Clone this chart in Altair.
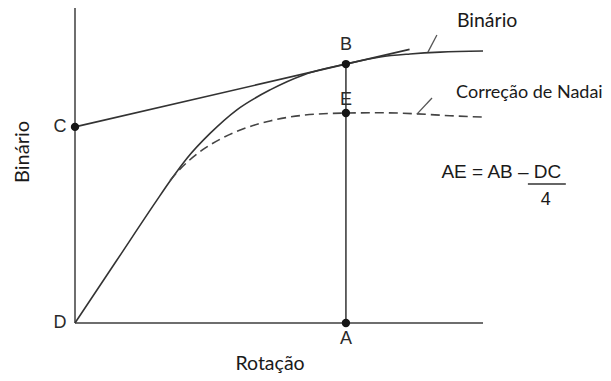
import altair as alt
import pandas as pd

# Solid torque curve ("Binário") – rotation vs torque (arbitrary units)
curve_x = [0, 10, 20, 23.3, 27.4, 33.1, 39.6, 47.8, 56.0, 66.4, 74.8, 82.1, 89.5, 100]
curve_y = [0, 22.5, 45, 52.2, 60.5, 69.7, 78.3, 85.7, 91.2, 95.2, 97.8, 98.9, 99.6, 100]

# Dashed Nadai-corrected curve
nadai_x = [23.3, 25.5, 28.0, 31.4, 35.5, 41.3, 47.8, 56.0, 66.4, 74.8, 83.8, 91.9, 100]
nadai_y = [52.4, 56.2, 59.8, 63.8, 67.5, 71.4, 74.3, 76.4, 77.2, 77.3, 76.9, 76.2, 75.7]

# Key points
pt_names = ["C", "B", "E", "A"]
pt_x = [0, 66.4, 66.4, 66.4]
pt_y = [72.1, 95.2, 77.2, 0]

# Point labels
lab_names = ["D", "C", "B", "E", "A"]
lab_x = [-3.7, -3.7, 66.4, 66.4, 66.4]
lab_y = [0, 72.1, 102.3, 82.0, -5.9]

# Tangent line through C and B
tan_x = [0, 82.0]
tan_y = [72.1, 100.6]

# Straight segments: axes, AB vertical, leader ticks, fraction bar
seg_x = [0, 0, 66.4, 86.5, 83.8, 111.0]
seg_y = [0, 0, 0, 99.6, 76.8, 51.1]
seg_x2 = [0, 100, 66.4, 88.7, 87.5, 120.3]
seg_y2 = [115.8, 0, 95.2, 105.9, 82.7, 51.1]
seg_kind = ["axis", "axis", "ab", "lead", "lead", "frac"]

# Annotation texts (curve names)
ann_text = ["Binário", "Correção de Nadai"]
ann_x = [93.6, 93.4]
ann_y = [108.8, 82.7]
ann_size = [19.5, 18]

XD = [-16.42, 129.41]
YD = [-18.38, 115.81]

xs = alt.Scale(domain=XD, nice=False, zero=False)
ys = alt.Scale(domain=YD, nice=False, zero=False)

def X(f="x"):
    return alt.X(f"{f}:Q", scale=xs, axis=None)

def Y(f="y"):
    return alt.Y(f"{f}:Q", scale=ys, axis=None)

segs = pd.DataFrame({"x": seg_x, "y": seg_y, "x2": seg_x2, "y2": seg_y2, "k": seg_kind})

axis_rules = alt.Chart(segs[segs.k == "axis"]).mark_rule(color="#6e6e6e", strokeWidth=2).encode(
    x=X(), y=Y(), x2="x2:Q", y2="y2:Q")
ab_rule = alt.Chart(segs[segs.k == "ab"]).mark_rule(color="#555555", strokeWidth=1.8).encode(
    x=X(), y=Y(), x2="x2:Q", y2="y2:Q")
lead_rule = alt.Chart(segs[segs.k == "lead"]).mark_rule(color="#555555", strokeWidth=1.3).encode(
    x=X(), y=Y(), x2="x2:Q", y2="y2:Q")
frac_rule = alt.Chart(segs[segs.k == "frac"]).mark_rule(color="#333333", strokeWidth=1.5).encode(
    x=X(), y=Y(), x2="x2:Q", y2="y2:Q")

tangent = alt.Chart(pd.DataFrame({"x": tan_x, "y": tan_y})).mark_line(
    color="#333333", strokeWidth=1.6).encode(x=X(), y=Y())

solid = alt.Chart(pd.DataFrame({"x": curve_x, "y": curve_y})).mark_line(
    color="#333333", strokeWidth=1.6, interpolate="monotone").encode(x=X(), y=Y(), order="x:Q")

dashed = alt.Chart(pd.DataFrame({"x": nadai_x, "y": nadai_y})).mark_line(
    color="#444444", strokeWidth=1.6, strokeDash=[9, 5], interpolate="monotone").encode(
    x=X(), y=Y(), order="x:Q")

points = alt.Chart(pd.DataFrame({"x": pt_x, "y": pt_y, "n": pt_names})).mark_circle(
    color="#151515", size=70, opacity=1).encode(x=X(), y=Y())

labels = alt.Chart(pd.DataFrame({"x": lab_x, "y": lab_y, "t": lab_names})).mark_text(
    font="Liberation Sans", fontSize=18, color="#2a2a2a", align="center", baseline="middle").encode(
    x=X(), y=Y(), text="t:N")

ann = alt.Chart(pd.DataFrame({"x": ann_x, "y": ann_y, "t": ann_text, "s": ann_size})).mark_text(
    font="Lato", color="#1a1a1a", align="left", baseline="alphabetic").encode(
    x=X(), y=Y(), text="t:N", size=alt.Size("s:Q", scale=None, legend=None))

formula = alt.Chart(pd.DataFrame({"x": [104.5], "y": [55.5], "t": ["AE = AB – DC"]})).mark_text(
    font="Liberation Sans", fontSize=19, color="#1a1a1a", align="center", baseline="middle").encode(
    x=X(), y=Y(), text="t:N")

four = alt.Chart(pd.DataFrame({"x": [115.4], "y": [45.2], "t": ["4"]})).mark_text(
    font="Liberation Sans", fontSize=18, color="#1a1a1a", align="center", baseline="middle").encode(
    x=X(), y=Y(), text="t:N")

xtitle = alt.Chart(pd.DataFrame({"x": [47.8], "y": [-17.1], "t": ["Rotação"]})).mark_text(
    font="Lato", fontSize=19.5, color="#1a1a1a", align="center", baseline="alphabetic").encode(
    x=X(), y=Y(), text="t:N")

ytitle = alt.Chart(pd.DataFrame({"x": [-12.7], "y": [62.9], "t": ["Binário"]})).mark_text(
    font="Lato", fontSize=20, color="#1a1a1a", align="center", baseline="middle", angle=270).encode(
    x=X(), y=Y(), text="t:N")

chart = alt.layer(
    axis_rules, ab_rule, tangent, solid, dashed, lead_rule, frac_rule,
    points, labels, ann, formula, four, xtitle, ytitle
).properties(
    width=595, height=365, autosize=alt.AutoSizeParams(type="none"), padding=0,
    background="white"
).configure_view(stroke=None)

chart.save("out.html", embed_options={"renderer": "svg", "actions": False})
